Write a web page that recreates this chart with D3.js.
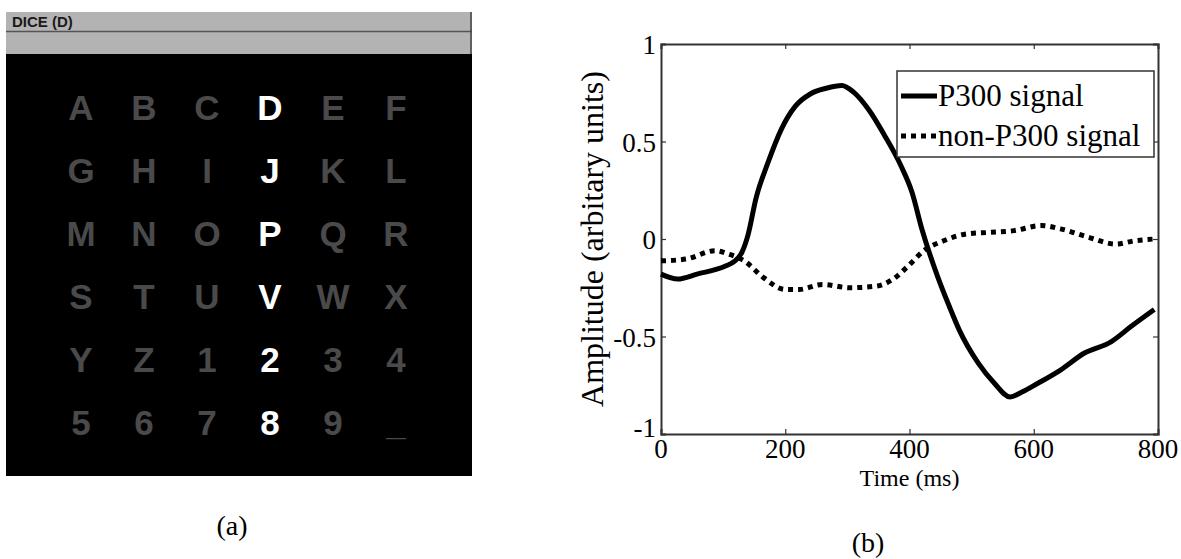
<!DOCTYPE html>
<html>
<head>
<meta charset="utf-8">
<script src="https://cdn.jsdelivr.net/npm/d3@7"></script>
<style>
  body { margin: 0; background: #fff; }
  svg { display: block; }
</style>
</head>
<body>
<div id="chart"></div>
<script>
// Speller matrix (panel a)
const SYMBOLS = ['A', 'B', 'C', 'D', 'E', 'F', 'G', 'H', 'I', 'J', 'K', 'L',
  'M', 'N', 'O', 'P', 'Q', 'R', 'S', 'T', 'U', 'V', 'W', 'X',
  'Y', 'Z', '1', '2', '3', '4', '5', '6', '7', '8', '9', '_']
const HIGHLIGHT_COL = 3
const TITLE = 'DICE (D)'

// ERP curves (panel b)
const p300Time = [0, 27, 58, 103, 118, 130, 140, 153, 172, 194, 216, 241, 266, 291, 310, 335,
  360, 386, 404, 420, 445, 464, 480, 511, 537, 562, 581, 606, 643, 681, 725, 757, 794]
const p300Amp = [-0.18, -0.205, -0.18, -0.14, -0.115, -0.07, 0.02, 0.21, 0.39, 0.565, 0.68, 0.745,
  0.773, 0.787, 0.753, 0.66, 0.53, 0.377, 0.24, 0.05, -0.19, -0.345, -0.466, -0.638, -0.741,
  -0.81, -0.785, -0.741, -0.672, -0.586, -0.526, -0.448, -0.362]
const nonP300Time = [0, 40, 87, 109, 134, 165, 200, 222, 260, 304, 348, 373, 398, 423, 455,
  492, 530, 568, 612, 643, 688, 732, 763, 794]
const nonP300Amp = [-0.112, -0.103, -0.06, -0.078, -0.112, -0.198, -0.259, -0.259, -0.233, -0.25,
  -0.241, -0.207, -0.138, -0.06, -0.009, 0.026, 0.034, 0.043, 0.069, 0.052, 0.009, -0.026,
  -0.009, 0]
const xTicks = [0, 200, 400, 600, 800]
const yTicks = [-1, -0.5, 0, 0.5, 1]
const yTickLabels = ['-1', '-0.5', '0', '0.5', '1']
const seriesNames = ['P300 signal', 'non-P300 signal']

const W = 1181
const H = 559
const SERIF = '"Liberation Serif", "Times New Roman", serif'
const SANS = '"Liberation Sans", Arial, sans-serif'

const svg = d3.select('#chart')
  .append('svg')
  .attr('width', W)
  .attr('height', H)

// ---- panel (a) ----
const pa = svg.append('g')
pa.append('rect').attr('x', 6).attr('y', 12).attr('width', 466).attr('height', 42).attr('fill', '#b3b3b3')
pa.append('line').attr('x1', 6).attr('x2', 472).attr('y1', 31.5).attr('y2', 31.5).attr('stroke', '#555').attr('stroke-width', 1.5)
pa.append('line').attr('x1', 471).attr('x2', 471).attr('y1', 12).attr('y2', 54).attr('stroke', '#444').attr('stroke-width', 1.5)
pa.append('rect').attr('x', 6).attr('y', 54).attr('width', 466).attr('height', 422).attr('fill', '#000')
pa.append('text').attr('x', 12).attr('y', 26.5)
  .attr('font-family', SANS).attr('font-weight', 'bold').attr('font-size', 15)
  .attr('fill', '#1a1a1a').text(TITLE)

const colX = d3.scaleLinear().domain([0, 5]).range([81, 396])
const rowY = d3.scaleLinear().domain([0, 5]).range([107, 422])
pa.selectAll('text.sym')
  .data(SYMBOLS)
  .enter()
  .append('text')
  .attr('class', 'sym')
  .attr('x', (d, i) => colX(i % 6))
  .attr('y', (d, i) => rowY(Math.floor(i / 6)))
  .attr('dy', '0.36em')
  .attr('text-anchor', 'middle')
  .attr('font-family', SANS)
  .attr('font-weight', 'bold')
  .attr('font-size', 35)
  .attr('fill', (d, i) => i % 6 === HIGHLIGHT_COL ? '#fff' : '#4a4a4a')
  .text(d => d)

svg.append('text').attr('x', 232).attr('y', 535).attr('text-anchor', 'middle')
  .attr('font-family', SERIF).attr('font-size', 28).text('(a)')

// ---- panel (b) ----
const m = { left: 661, right: 1158, top: 44, bottom: 434 }
const x = d3.scaleLinear().domain([0, 800]).range([m.left, m.right])
const y = d3.scaleLinear().domain([-1, 1]).range([m.bottom, m.top])

const pb = svg.append('g')
const tickLen = 5

// inward ticks (MATLAB style) on all four sides
pb.append('g').attr('transform', `translate(0,${m.bottom})`)
  .call(d3.axisBottom(x).tickValues(xTicks).tickSize(-tickLen).tickFormat(''))
pb.append('g').attr('transform', `translate(0,${m.top})`)
  .call(d3.axisTop(x).tickValues(xTicks).tickSize(-tickLen).tickFormat(''))
pb.append('g').attr('transform', `translate(${m.left},0)`)
  .call(d3.axisLeft(y).tickValues(yTicks).tickSize(-tickLen).tickFormat(''))
pb.append('g').attr('transform', `translate(${m.right},0)`)
  .call(d3.axisRight(y).tickValues(yTicks).tickSize(-tickLen).tickFormat(''))
pb.selectAll('.domain').attr('stroke', '#333').attr('stroke-width', 2)
pb.selectAll('.tick line').attr('stroke', '#333').attr('stroke-width', 1.2)

// tick labels
pb.selectAll('text.xl')
  .data(xTicks)
  .enter()
  .append('text')
  .attr('class', 'xl')
  .attr('x', d => x(d))
  .attr('y', m.bottom + 24)
  .attr('text-anchor', 'middle')
  .attr('font-family', SERIF)
  .attr('font-size', 27)
  .text(d => d)
pb.selectAll('text.yl')
  .data(yTicks)
  .enter()
  .append('text')
  .attr('class', 'yl')
  .attr('x', m.left - 5)
  .attr('y', d => y(d) + (d === -1 ? 3 : 10))
  .attr('text-anchor', 'end')
  .attr('font-family', SERIF)
  .attr('font-size', 27)
  .text((d, i) => yTickLabels[i])

pb.append('text').attr('x', (m.left + m.right) / 2).attr('y', m.bottom + 52)
  .attr('text-anchor', 'middle').attr('font-family', SERIF).attr('font-size', 24)
  .text('Time (ms)')
pb.append('text')
  .attr('transform', `translate(603,${(m.top + m.bottom) / 2}) rotate(-90)`)
  .attr('text-anchor', 'middle').attr('font-family', SERIF).attr('font-size', 32)
  .text('Amplitude (arbitary units)')

// curves
const line = d3.line().x(d => x(d[0])).y(d => y(d[1])).curve(d3.curveMonotoneX)
pb.append('path')
  .datum(d3.zip(nonP300Time, nonP300Amp))
  .attr('d', line)
  .attr('fill', 'none')
  .attr('stroke', '#000')
  .attr('stroke-width', 5)
  .attr('stroke-dasharray', '5,5')
pb.append('path')
  .datum(d3.zip(p300Time, p300Amp))
  .attr('d', line)
  .attr('fill', 'none')
  .attr('stroke', '#000')
  .attr('stroke-width', 5)
  .attr('stroke-linejoin', 'round')

// legend
const lg = pb.append('g').attr('transform', 'translate(897,71)')
lg.append('rect').attr('width', 257).attr('height', 86)
  .attr('fill', '#fff').attr('stroke', '#333').attr('stroke-width', 1.5)
lg.selectAll('line.ls')
  .data(seriesNames)
  .enter()
  .append('line')
  .attr('class', 'ls')
  .attr('x1', 4).attr('x2', 40)
  .attr('y1', (d, i) => 25 + i * 40).attr('y2', (d, i) => 25 + i * 40)
  .attr('stroke', '#000').attr('stroke-width', 5)
  .attr('stroke-dasharray', (d, i) => i === 0 ? null : '5,5')
lg.selectAll('text.lt')
  .data(seriesNames)
  .enter()
  .append('text')
  .attr('class', 'lt')
  .attr('x', 41)
  .attr('y', (d, i) => 35 + i * 40)
  .attr('font-family', SERIF)
  .attr('font-size', 31)
  .text(d => d)

svg.append('text').attr('x', 868).attr('y', 552).attr('text-anchor', 'middle')
  .attr('font-family', SERIF).attr('font-size', 28).text('(b)')
</script>
</body>
</html>
